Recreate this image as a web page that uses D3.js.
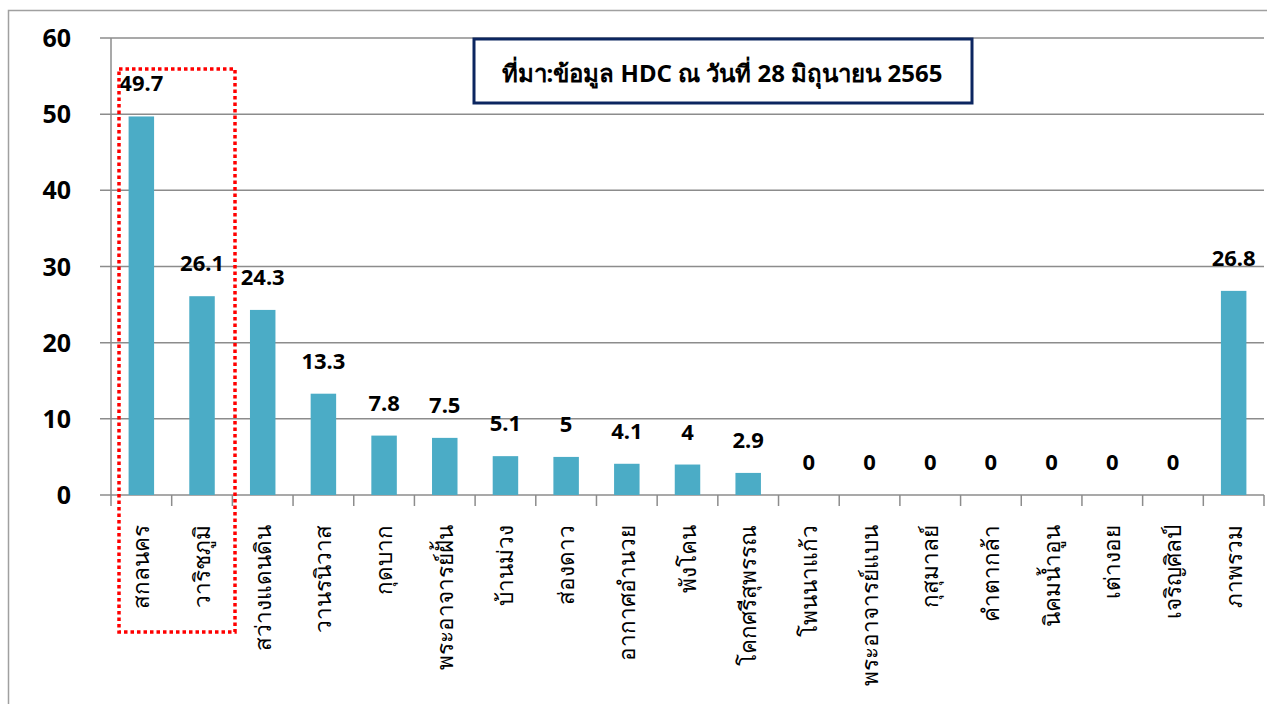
<!DOCTYPE html>
<html>
<head>
<meta charset="utf-8">
<script src="https://cdn.jsdelivr.net/npm/d3@7"></script>
<style>
  body { margin: 0; background: #fff; }
  svg { font-family: Tahoma, "Noto Sans", "DejaVu Sans", sans-serif; }
</style>
</head>
<body>
<svg id="chart" width="1267" height="704"></svg>
<script>
const districts = ["สกลนคร", "วาริชภูมิ", "สว่างแดนดิน", "วานรนิวาส", "กุดบาก", "พระอาจารย์ฝั้น",
  "บ้านม่วง", "ส่องดาว", "อากาศอำนวย", "พังโคน", "โคกศรีสุพรรณ", "โพนนาแก้ว", "พระอาจารย์แบน",
  "กุสุมาลย์", "คำตากล้า", "นิคมน้ำอูน", "เต่างอย", "เจริญศิลป์", "ภาพรวม"];
const values = [49.7, 26.1, 24.3, 13.3, 7.8, 7.5, 5.1, 5, 4.1, 4, 2.9, 0, 0, 0, 0, 0, 0, 0, 26.8];
const yTicks = [0, 10, 20, 30, 40, 50, 60];
const sourceText = "ที่มา:ข้อมูล HDC ณ วันที่ 28 มิถุนายน 2565";

const svg = d3.select("#chart");

// outer frame
svg.append("path")
  .attr("d", "M8.5,704 V10.5 H1267")
  .attr("fill", "none")
  .attr("stroke", "#a0a0a0")
  .attr("stroke-width", 1.5);

const plot = { left: 111, right: 1264, top: 38, bottom: 495 };

const x = d3.scaleBand().domain(districts).range([plot.left, plot.right]).paddingInner(0.58).paddingOuter(0.29);
const y = d3.scaleLinear().domain([0, 60]).range([plot.bottom, plot.top]);

// gridlines
svg.append("g")
  .selectAll("line")
  .data(yTicks)
  .join("line")
  .attr("x1", plot.left - 11)
  .attr("x2", plot.right)
  .attr("y1", d => y(d))
  .attr("y2", d => y(d))
  .attr("stroke", "#8c8c8c")
  .attr("stroke-width", 1.5);

// y axis line
svg.append("line")
  .attr("x1", plot.left).attr("x2", plot.left)
  .attr("y1", plot.top).attr("y2", plot.bottom + 11)
  .attr("stroke", "#8c8c8c")
  .attr("stroke-width", 1.5);

// x ticks between categories
const cell = (plot.right - plot.left) / districts.length;
svg.append("g")
  .selectAll("line")
  .data(districts)
  .join("line")
  .attr("x1", (d, i) => plot.left + (i + 1) * cell)
  .attr("x2", (d, i) => plot.left + (i + 1) * cell)
  .attr("y1", plot.bottom)
  .attr("y2", plot.bottom + 11)
  .attr("stroke", "#8c8c8c")
  .attr("stroke-width", 1.5);

// y labels
svg.append("g")
  .selectAll("text")
  .data(yTicks)
  .join("text")
  .attr("x", 71)
  .attr("y", d => y(d) + 9)
  .attr("text-anchor", "end")
  .style("font-size", "25px")
  .style("font-weight", "bold")
  .text(d => d);

// bars
svg.append("g")
  .selectAll("rect")
  .data(values)
  .join("rect")
  .attr("x", (d, i) => x(districts[i]))
  .attr("y", d => y(d))
  .attr("width", x.bandwidth())
  .attr("height", d => plot.bottom - y(d))
  .attr("fill", "#4bacc6");

// value labels
svg.append("g")
  .selectAll("text")
  .data(values)
  .join("text")
  .attr("x", (d, i) => x(districts[i]) + x.bandwidth() / 2)
  .attr("y", d => y(d) - 25)
  .attr("text-anchor", "middle")
  .style("font-size", "22px")
  .style("font-weight", "bold")
  .text(d => d);

// category labels, rotated (read bottom to top, top-aligned)
svg.append("g")
  .selectAll("text")
  .data(districts)
  .join("text")
  .attr("transform", d => `translate(${x(d) + x.bandwidth() / 2 + 8},525) rotate(-90)`)
  .attr("text-anchor", "end")
  .style("font-size", "22.5px")
  .text(d => d);

// highlight box
svg.append("rect")
  .attr("x", 119).attr("y", 69)
  .attr("width", 116).attr("height", 563)
  .attr("fill", "none")
  .attr("stroke", "#ff0000")
  .attr("stroke-width", 3.5)
  .attr("stroke-dasharray", "3.5,3");

// source box
svg.append("rect")
  .attr("x", 474).attr("y", 39)
  .attr("width", 498).attr("height", 64)
  .attr("fill", "#fff")
  .attr("stroke", "#0c2660")
  .attr("stroke-width", 3);

svg.append("text")
  .attr("x", 722).attr("y", 82)
  .attr("text-anchor", "middle")
  .style("font-size", "24px")
  .style("font-weight", "bold")
  .text(sourceText);
</script>
</body>
</html>
